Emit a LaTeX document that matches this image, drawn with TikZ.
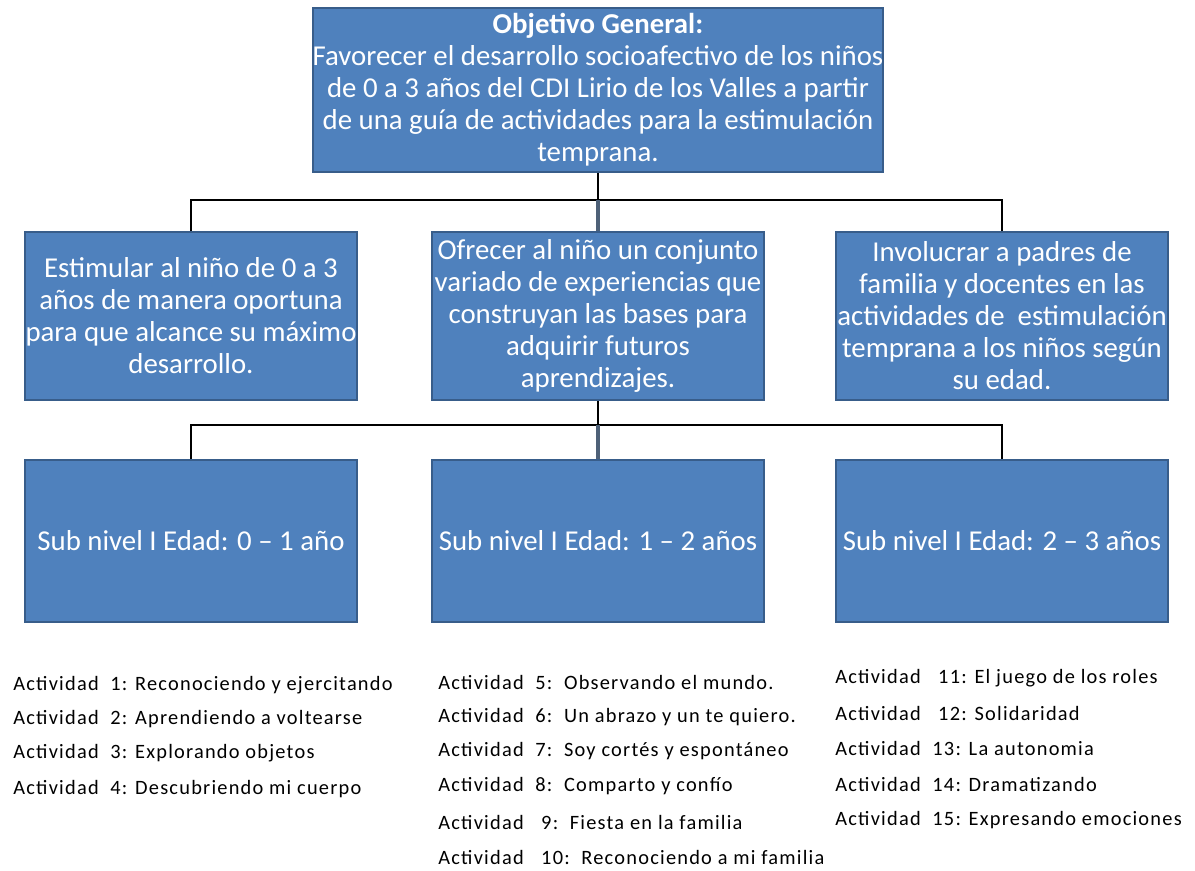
\documentclass[tikz,border=0pt]{standalone}
\usepackage{fontspec}
\setmainfont{Carlito}
\newfontfamily\actfont{Carlito}[LetterSpace=6]
\usepackage{tikz}
\usetikzlibrary{positioning,calc}
\definecolor{boxblue}{HTML}{4F81BD}
\definecolor{boxline}{HTML}{385D8A}
\definecolor{stemgray}{HTML}{4E6178}
\tikzstyle{box}=[draw=boxline, line width=1pt, fill=boxblue, text=white, align=center, inner sep=0, font=\fontsize{16.4}{18.2}\selectfont]
\tikzstyle{link}=[draw=black, line width=1.1pt]
\tikzstyle{act}=[anchor=west, inner sep=0, font=\actfont\fontsize{11.6}{13}\selectfont]
\newcommand{\drawgoal}{\node[box, minimum width=11.4cm, minimum height=3.28cm]}
\newcommand{\drawaim}{\node[box, minimum width=6.64cm, minimum height=3.36cm]}
\newcommand{\drawlevel}{\node[box, minimum width=6.64cm, minimum height=3.24cm]}
\newcommand{\drawact}{\node[act]}
\begin{document}
\begin{tikzpicture}[x=0.02cm, y=-0.02cm]
	\useasboundingbox (0,0) rectangle (1195,870);

	\drawgoal (goal) at (598,90) {\\[-0.9ex]\textbf{Objetivo General:}\\Favorecer el desarrollo socioafectivo de los niños\\de 0 a 3 años del CDI Lirio de los Valles a partir\\de una guía de actividades para la estimulación\\temprana.};

	\drawaim (aim1) at (191,316) {Estimular al niño de 0 a 3\\años de manera oportuna\\para que alcance su máximo\\desarrollo.};
	\drawaim (aim2) at (598,316) {Ofrecer al niño un conjunto\\variado de experiencias que\\construyan las bases para\\adquirir futuros\\aprendizajes.};
	\drawaim (aim3) at (1002,316) {Involucrar a padres de\\familia y docentes en las\\actividades de \ estimulación\\temprana a los niños según\\su edad.};

	\drawlevel (lev1) at (191,541) {Sub nivel I Edad: 0 -- 1 año};
	\drawlevel (lev2) at (598,541) {Sub nivel I Edad: 1 -- 2 años};
	\drawlevel (lev3) at (1002,541) {Sub nivel I Edad: 2 -- 3 años};

	\coordinate (j1) at (598,200);
	\coordinate (j2) at (598,425);

	\draw[link] (goal.south) -- (j1);
	\draw[link] (aim1.north) |- (j1);
	\draw[link] (aim3.north) |- (j1);
	\draw[link, draw=stemgray, line width=1.8pt] (j1) -- (aim2.north);

	\draw[link] (aim2.south) -- (j2);
	\draw[link] (lev1.north) |- (j2);
	\draw[link] (lev3.north) |- (j2);
	\draw[link, draw=stemgray, line width=1.8pt] (j2) -- (lev2.north);

	\drawact (a1) at (13,685) {Actividad\ \ 1: Reconociendo y ejercitando};
	\drawact (a2) at (13,719) {Actividad\ \ 2: Aprendiendo a voltearse};
	\drawact (a3) at (13,753) {Actividad\ \ 3: Explorando objetos};
	\drawact (a4) at (13,789) {Actividad\ \ 4: Descubriendo mi cuerpo};

	\drawact (a5) at (438,682) {Actividad\ \ 5:\ \ Observando el mundo.};
	\drawact (a6) at (438,717) {Actividad\ \ 6:\ \ Un abrazo y un te quiero.};
	\drawact (a7) at (438,751) {Actividad\ \ 7:\ \ Soy cortés y espontáneo};
	\drawact (a8) at (438,786) {Actividad\ \ 8:\ \ Comparto y confío};
	\drawact (a9) at (438,822) {Actividad\ \ \ 9:\ \ Fiesta en la familia};
	\drawact (a10) at (438,857) {Actividad\ \ \ 10:\ \ Reconociendo a mi familia};

	\drawact (a11) at (835,678) {Actividad\ \ \ 11: El juego de los roles};
	\drawact (a12) at (835,713) {Actividad\ \ \ 12: Solidaridad};
	\drawact (a13) at (835,748) {Actividad\ \ 13: La autonomia};
	\drawact (a14) at (835,784) {Actividad\ \ 14: Dramatizando};
	\drawact (a15) at (835,820) {Actividad\ \ 15: Expresando emociones};
\end{tikzpicture}
\end{document}
